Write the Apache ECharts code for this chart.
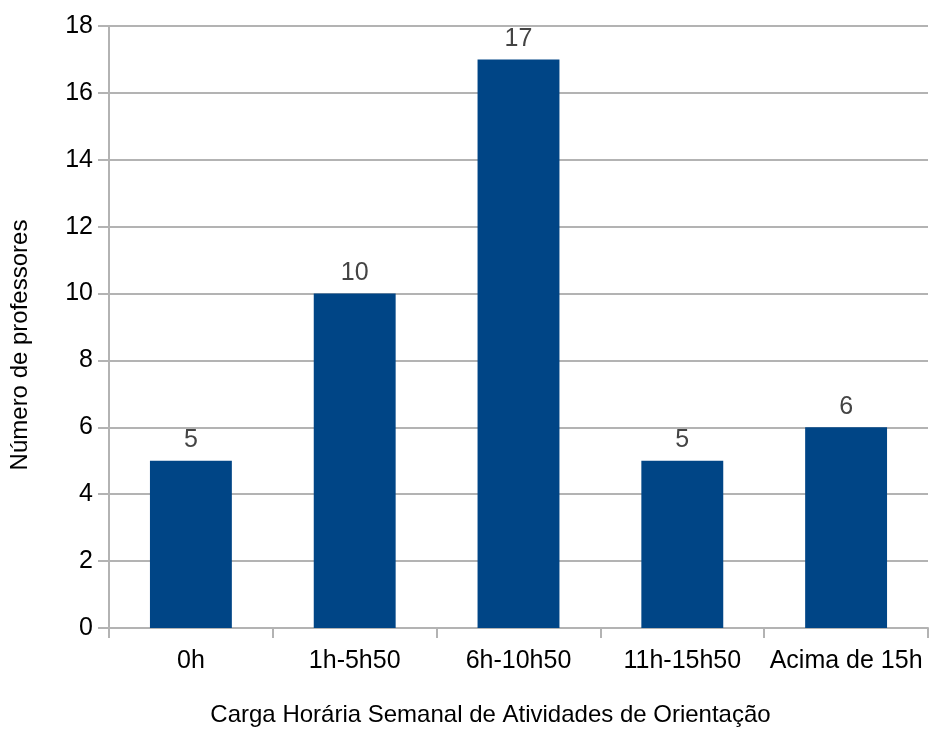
<!DOCTYPE html>
<html>
<head>
<meta charset="utf-8">
<script src="https://cdn.jsdelivr.net/npm/echarts@6/dist/echarts.min.js"></script>
<style>html,body{margin:0;padding:0;background:#fff;}#c{width:929px;height:732px;}</style>
</head>
<body>
<div id="c"></div>
<script>
const categories = ['0h', '1h-5h50', '6h-10h50', '11h-15h50', 'Acima de 15h'];
const values = [5, 10, 17, 5, 6];
const yTicks = [0, 2, 4, 6, 8, 10, 12, 14, 16, 18];

const chart = echarts.init(document.getElementById('c'), null, {renderer: 'canvas'});
const font = 'Liberation Sans, Arial, sans-serif';
chart.setOption({
  animation: false,
  backgroundColor: '#fff',
  grid: {left: 109, right: 1, top: 26, bottom: 97, containLabel: false},
  xAxis: {
    type: 'category',
    data: categories,
    boundaryGap: true,
    name: 'Carga Horária Semanal de Atividades de Orientação',
    nameLocation: 'middle',
    nameGap: 75,
    nameTextStyle: {fontFamily: font, fontSize: 24, color: '#000', padding: [0, 56, 0, 0]},
    axisLine: {show: true, lineStyle: {color: '#b3b3b3', width: 2}},
    axisTick: {show: true, interval: 0, alignWithLabel: false, length: 10, lineStyle: {color: '#b3b3b3', width: 2}},
    axisLabel: {fontFamily: font, fontSize: 25, color: '#000', margin: 21, interval: 0},
    splitLine: {show: false}
  },
  yAxis: {
    type: 'value',
    min: yTicks[0],
    max: yTicks[yTicks.length - 1],
    interval: 2,
    name: 'Número de professores',
    nameLocation: 'middle',
    nameGap: 77,
    nameTextStyle: {fontFamily: font, fontSize: 24, color: '#000', padding: [0, 36, 0, 0]},
    axisLine: {show: true, lineStyle: {color: '#b3b3b3', width: 2}},
    axisTick: {show: true, length: 11, lineStyle: {color: '#b3b3b3', width: 2}},
    axisLabel: {fontFamily: font, fontSize: 25, color: '#000', margin: 16},
    splitLine: {show: true, lineStyle: {color: '#b3b3b3', width: 2}}
  },
  series: [{
    type: 'bar',
    data: values,
    barWidth: '50%',
    itemStyle: {color: '#004586'},
    label: {show: true, position: 'top', distance: 8, fontFamily: font, fontSize: 25, color: '#444'}
  }]
});
</script>
</body>
</html>
